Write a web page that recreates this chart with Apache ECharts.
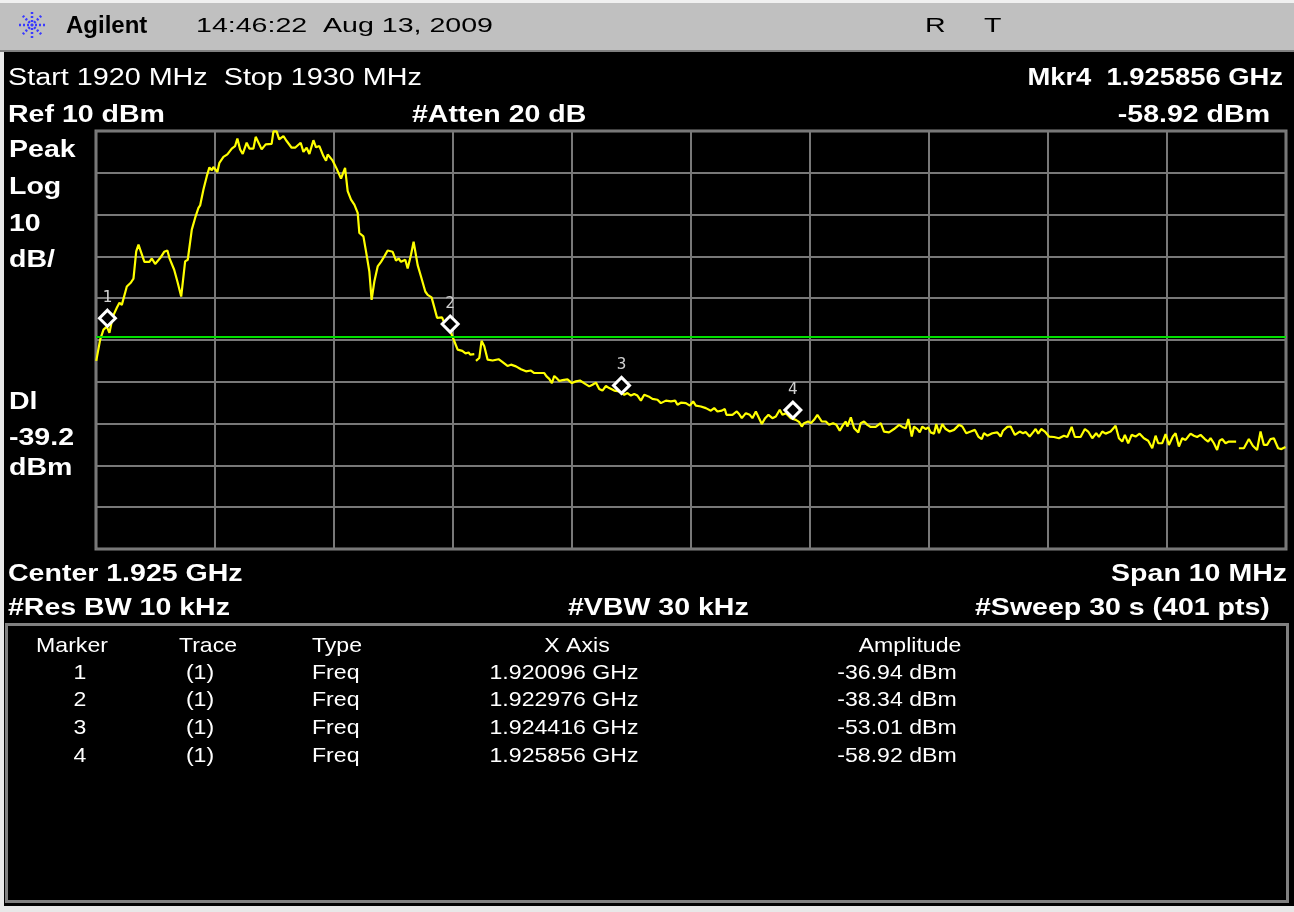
<!DOCTYPE html>
<html><head><meta charset="utf-8">
<script src="https://cdn.jsdelivr.net/npm/echarts@6/dist/echarts.min.js"></script>
<style>html,body{margin:0;padding:0;background:#fff}#c{width:1294px;height:912px}</style>
</head><body><div id="c"></div><script>
// ---- data ----
const traceFreq = [1920.002,1920.035,1920.063,1920.091,1920.113,1920.141,1920.175,1920.197,1920.217,1920.259,1920.292,1920.315,1920.338,1920.357,1920.380,1920.407,1920.449,1920.469,1920.497,1920.539,1920.573,1920.600,1920.617,1920.657,1920.684,1920.716,1920.749,1920.771,1920.805,1920.833,1920.861,1920.875,1920.903,1920.931,1920.953,1920.973,1920.987,1921.020,1921.037,1921.071,1921.104,1921.141,1921.169,1921.188,1921.211,1921.233,1921.266,1921.289,1921.323,1921.342,1921.371,1921.392,1921.426,1921.476,1921.491,1921.518,1921.539,1921.575,1921.602,1921.644,1921.673,1921.720,1921.743,1921.770,1921.793,1921.827,1921.849,1921.877,1921.911,1921.933,1921.947,1921.989,1922.022,1922.059,1922.093,1922.115,1922.143,1922.171,1922.199,1922.213,1922.247,1922.269,1922.297,1922.316,1922.339,1922.367,1922.395,1922.423,1922.451,1922.493,1922.521,1922.543,1922.563,1922.599,1922.619,1922.647,1922.669,1922.703,1922.731,1922.767,1922.787,1922.820,1922.843,1922.866,1922.908,1922.941,1922.983,1923.011,1923.039,1923.078,1923.106,1923.131,1923.145,1923.179,1923.186,1923.193,1923.221,1923.240,1923.263,1923.291,1923.333,1923.383,1923.417,1923.458,1923.487,1923.529,1923.571,1923.613,1923.655,1923.683,1923.725,1923.767,1923.786,1923.809,1923.831,1923.851,1923.870,1923.893,1923.920,1923.962,1923.999,1924.033,1924.067,1924.111,1924.145,1924.172,1924.201,1924.229,1924.256,1924.285,1924.313,1924.355,1924.397,1924.439,1924.466,1924.495,1924.523,1924.550,1924.579,1924.607,1924.643,1924.676,1924.718,1924.747,1924.789,1924.831,1924.867,1924.886,1924.915,1924.957,1924.990,1925.018,1925.041,1925.083,1925.125,1925.167,1925.195,1925.222,1925.259,1925.284,1925.298,1925.348,1925.385,1925.404,1925.427,1925.461,1925.494,1925.516,1925.545,1925.572,1925.595,1925.623,1925.651,1925.684,1925.713,1925.746,1925.768,1925.797,1925.839,1925.881,1925.908,1925.931,1925.950,1925.984,1926.007,1926.034,1926.062,1926.099,1926.133,1926.160,1926.194,1926.222,1926.250,1926.278,1926.301,1926.314,1926.343,1926.371,1926.406,1926.426,1926.454,1926.482,1926.510,1926.552,1926.594,1926.622,1926.664,1926.706,1926.749,1926.776,1926.805,1926.826,1926.855,1926.874,1926.902,1926.922,1926.944,1926.973,1926.994,1927.014,1927.042,1927.061,1927.084,1927.112,1927.140,1927.174,1927.210,1927.252,1927.280,1927.313,1927.350,1927.386,1927.414,1927.443,1927.462,1927.490,1927.532,1927.574,1927.602,1927.622,1927.658,1927.686,1927.722,1927.762,1927.790,1927.812,1927.846,1927.874,1927.896,1927.918,1927.943,1927.974,1928.008,1928.050,1928.092,1928.134,1928.162,1928.199,1928.226,1928.274,1928.310,1928.338,1928.372,1928.405,1928.428,1928.456,1928.484,1928.526,1928.568,1928.596,1928.624,1928.646,1928.674,1928.703,1928.736,1928.770,1928.806,1928.842,1928.876,1928.904,1928.926,1928.960,1928.988,1929.016,1929.049,1929.072,1929.100,1929.128,1929.156,1929.178,1929.198,1929.226,1929.253,1929.282,1929.318,1929.346,1929.366,1929.394,1929.421,1929.442,1929.463,1929.492,1929.520,1929.547,1929.581,1929.592,1929.604,1929.646,1929.688,1929.721,1929.757,1929.786,1929.814,1929.841,1929.870,1929.898,1929.934,1929.962,1929.996];
const traceAmp = [-45.0,-39.9,-37.5,-36.8,-38.3,-34.4,-32.3,-31.1,-31.6,-27.2,-26.3,-25.3,-18.8,-17.2,-19.1,-21.3,-21.3,-20.5,-21.8,-20.4,-18.9,-18.6,-20.4,-23.2,-26.0,-29.6,-21.2,-20.8,-13.6,-10.8,-8.4,-7.8,-4.0,-0.8,1.3,0.6,1.4,0.2,2.4,3.8,4.4,5.8,6.4,8.2,5.6,4.5,7.2,5.8,5.8,8.6,6.9,5.6,6.8,6.9,9.9,9.9,8.0,8.8,7.6,6.0,6.0,7.2,5.0,6.0,4.5,7.8,6.1,6.4,4.0,2.9,4.4,2.9,1.0,-1.4,1.2,-4.4,-6.4,-7.6,-9.6,-14.4,-15.2,-18.8,-23.6,-30.4,-26.0,-22.4,-21.3,-20.0,-18.6,-18.9,-21.0,-20.5,-21.3,-20.8,-22.9,-19.6,-16.5,-22.1,-24.8,-28.4,-29.2,-29.8,-32.2,-34.7,-34.6,-36.8,-38.3,-40.3,-42.3,-42.6,-43.2,-43.0,-43.5,-43.4,null,-45.0,-44.3,-40.2,-41.5,-44.7,-44.9,-44.6,-45.3,-46.2,-45.9,-46.3,-47.0,-47.5,-47.3,-47.9,-47.9,-47.9,-48.7,-49.3,-50.3,-48.6,-49.1,-49.8,-49.6,-49.4,-50.3,-49.9,-49.7,-50.5,-51.1,-50.7,-50.2,-51.7,-52.1,-51.0,-51.5,-52.1,-52.3,-53.1,-52.7,-53.3,-52.9,-53.3,-54.5,-53.1,-53.5,-54.1,-54.3,-55.1,-54.5,-54.7,-54.5,-55.5,-55.0,-55.1,-55.7,-54.7,-55.7,-55.9,-56.3,-56.9,-56.3,-57.1,-56.9,-56.5,-57.9,-57.9,-57.1,-57.7,-58.7,-57.5,-57.9,-58.7,-57.1,-58.7,-60.1,-58.7,-57.9,-58.7,-58.3,-56.7,-57.9,-57.5,-58.7,-59.1,-59.6,-60.7,-59.9,-59.5,-59.9,-59.1,-57.9,-59.5,-59.5,-60.3,-59.9,-60.3,-61.7,-60.3,-59.5,-60.7,-58.5,-61.1,-62.1,-59.9,-59.5,-60.3,-60.8,-60.8,-59.9,-61.9,-62.1,-61.3,-60.3,-60.8,-61.1,-58.9,-63.1,-60.7,-61.3,-62.1,-60.7,-61.3,-60.9,-62.1,-62.4,-60.1,-62.3,-60.1,-61.3,-61.9,-61.5,-60.3,-60.7,-62.3,-61.9,-61.5,-63.1,-63.7,-62.3,-62.9,-62.3,-62.1,-63.1,-61.7,-60.8,-60.7,-62.7,-61.9,-62.3,-62.0,-63.1,-62.1,-61.3,-62.4,-61.3,-61.9,-63.1,-63.2,-63.5,-62.9,-63.2,-60.8,-63.2,-63.2,-61.3,-61.9,-63.5,-62.3,-63.2,-61.9,-62.4,-61.9,-60.5,-63.5,-64.3,-62.7,-64.7,-62.7,-63.1,-62.4,-63.5,-64.1,-65.9,-62.9,-64.7,-64.7,-62.5,-65.1,-63.1,-62.3,-65.5,-63.5,-63.9,-63.1,-62.4,-62.9,-63.2,-62.7,-63.7,-64.3,-63.5,-64.7,-66.3,-64.1,-63.7,-64.7,-64.3,-64.3,-64.3,null,-65.9,-65.9,-63.7,-65.3,-66.3,-61.9,-65.1,-65.1,-63.7,-63.5,-65.9,-66.1,-65.6];

const markerNo = [1, 2, 3, 4];
const markerTrace = ['(1)', '(1)', '(1)', '(1)'];
const markerType = ['Freq', 'Freq', 'Freq', 'Freq'];
const markerFreqGHz = [1.920096, 1.922976, 1.924416, 1.925856];
const markerAmp = [-36.94, -38.34, -53.01, -58.92];
const tableHeaders = ['Marker', 'Trace', 'Type', 'X Axis', 'Amplitude'];

const startMHz = 1920, stopMHz = 1930;
const refLevel = 10, dbPerDiv = 10, divisions = 10;
const displayLine = -39.2;

// ---- rendering ----
const FONT = '"Liberation Sans", Arial, sans-serif';
function T(x, y, text, size, bold, align, color, sx) {
  return { type: 'text', x: x, y: y, scaleX: sx || 1.24, z: 20,
    style: { text: text, fill: color || '#fff', fontSize: size, fontWeight: bold ? 'bold' : 'normal',
      fontFamily: FONT, textAlign: align || 'left', textVerticalAlign: 'middle', align: align || 'left', verticalAlign: 'middle' } };
}

const chart = echarts.init(document.getElementById('c'), null, { renderer: 'canvas' });

const lineData = traceFreq.map((f, i) => [f, traceAmp[i] === null ? '-' : traceAmp[i]]);
const markData = markerFreqGHz.map((g, i) => [+(g * 1000).toFixed(3), markerAmp[i]]);

const graphics = [];
// header band
graphics.push({ type: 'rect', z: 1, shape: { x: 0, y: 0, width: 1294, height: 51 }, style: { fill: '#c0c0c0' } });
graphics.push({ type: 'line', z: 2, shape: { x1: 0, y1: 51, x2: 1294, y2: 51 }, style: { stroke: '#808080', lineWidth: 2 } });
// thin light frame around the screen capture
graphics.push({ type: 'rect', z: 2, shape: { x: 0, y: 0, width: 1294, height: 3 }, style: { fill: '#f0f0f0' } });
graphics.push({ type: 'rect', z: 2, shape: { x: 0, y: 52, width: 4, height: 860 }, style: { fill: '#e8e8e8' } });
graphics.push({ type: 'rect', z: 2, shape: { x: 0, y: 906, width: 1294, height: 6 }, style: { fill: '#e8e8e8' } });
// Agilent spark logo
const lcx = 32, lcy = 25;
[0, 45, 90, 135].forEach(a => {
  const r = a * Math.PI / 180, L = 13;
  graphics.push({ type: 'line', z: 3, shape: { x1: lcx - L * Math.cos(r), y1: lcy - L * Math.sin(r), x2: lcx + L * Math.cos(r), y2: lcy + L * Math.sin(r) },
    style: { stroke: '#3a3aff', lineWidth: 2.5, lineDash: [2, 2] } });
});
graphics.push(T(66, 26, 'Agilent', 24, true, 'left', '#000', 1.0));
graphics.push(T(196, 26, '14:46:22  Aug 13, 2009', 21, false, 'left', '#000', 1.36));
graphics.push(T(925, 26, 'R', 21, false, 'left', '#000', 1.36));
graphics.push(T(984, 26, 'T', 21, false, 'left', '#000', 1.36));

// annotation texts
const D = 3; // vertical nudge for 23px text
graphics.push(T(8, 76 + D, 'Start ' + startMHz + ' MHz  Stop ' + stopMHz + ' MHz', 23, false, 'left', '#fff', 1.25));
graphics.push(T(1283, 76 + D, 'Mkr' + markerNo[3] + '  ' + markerFreqGHz[3].toFixed(6) + ' GHz', 23, true, 'right', '#fff', 1.19));
graphics.push(T(8, 113 + D, 'Ref ' + refLevel + ' dBm', 23, true));
graphics.push(T(412, 113 + D, '#Atten 20 dB', 23, true));
graphics.push(T(1270, 113 + D, markerAmp[3].toFixed(2) + ' dBm', 23, true, 'right'));
graphics.push(T(9, 148 + D, 'Peak', 23, true));
graphics.push(T(9, 185 + D, 'Log', 23, true));
graphics.push(T(9, 222 + D, String(dbPerDiv), 23, true));
graphics.push(T(9, 258 + D, 'dB/', 23, true));
graphics.push(T(9, 400 + D, 'Dl', 23, true));
graphics.push(T(9, 436 + D, String(displayLine), 23, true));
graphics.push(T(9, 466 + D, 'dBm', 23, true));
graphics.push(T(8, 572 + D, 'Center 1.925 GHz', 23, true));
graphics.push(T(1287, 572 + D, 'Span 10 MHz', 23, true, 'right'));
graphics.push(T(8, 606 + D, '#Res BW 10 kHz', 23, true));
graphics.push(T(568, 606 + D, '#VBW 30 kHz', 23, true));
graphics.push(T(975, 606 + D, '#Sweep 30 s (401 pts)', 23, true));

// marker table
graphics.push({ type: 'rect', z: 5, shape: { x: 6.5, y: 624.5, width: 1281, height: 277 }, style: { fill: '#000', stroke: '#808080', lineWidth: 3 } });
const TS = 21, TSX = 1.1;
const colX = [72, 208, 337, 577, 910];
tableHeaders.forEach((h, i) => graphics.push(T(colX[i], 646, h, TS, false, 'center', '#fff', TSX)));
const rowY = [673, 700, 728, 756];
const rowX = [80, 200, 312, 564, 897];
markerNo.forEach((m, i) => {
  graphics.push(T(rowX[0], rowY[i], String(m), TS, false, 'center', '#fff', TSX));
  graphics.push(T(rowX[1], rowY[i], markerTrace[i], TS, false, 'center', '#fff', TSX));
  graphics.push(T(rowX[2], rowY[i], markerType[i], TS, false, 'left', '#fff', TSX));
  graphics.push(T(rowX[3], rowY[i], markerFreqGHz[i].toFixed(6) + ' GHz', TS, false, 'center', '#fff', TSX));
  graphics.push(T(rowX[4], rowY[i], markerAmp[i].toFixed(2) + ' dBm', TS, false, 'center', '#fff', TSX));
});

chart.setOption({
  animation: false,
  backgroundColor: '#000',
  graphic: { elements: graphics },
  grid: { left: 96, top: 131, width: 1190, height: 418, show: true, borderColor: '#808080', borderWidth: 3, backgroundColor: '#000' },
  xAxis: { type: 'value', min: startMHz, max: stopMHz, interval: (stopMHz - startMHz) / divisions,
    axisLine: { show: false }, axisTick: { show: false }, axisLabel: { show: false },
    splitLine: { show: true, lineStyle: { color: '#787878', width: 2 } } },
  yAxis: { type: 'value', min: refLevel - dbPerDiv * divisions, max: refLevel, interval: dbPerDiv,
    axisLine: { show: false }, axisTick: { show: false }, axisLabel: { show: false },
    splitLine: { show: true, lineStyle: { color: '#787878', width: 2 } } },
  series: [
    { type: 'line', data: lineData, showSymbol: false, symbol: 'none', connectNulls: false, z: 3,
      lineStyle: { color: '#ffff00', width: 2.2 },
      markLine: { silent: true, symbol: 'none', label: { show: false }, z: 4,
        lineStyle: { color: '#00e000', width: 2, type: 'solid' }, data: [{ yAxis: displayLine }] } },
    { type: 'scatter', data: markData, symbol: 'diamond', symbolSize: [16, 16], symbolOffset: [0, -9], z: 6,
      itemStyle: { color: '#000', borderColor: '#fff', borderWidth: 3, opacity: 1 },
      label: { show: true, position: 'top', distance: 3, formatter: p => String(markerNo[p.dataIndex]),
        color: '#d0d0d0', fontSize: 16, fontFamily: '"DejaVu Sans Mono", monospace' } }
  ]
});
</script></body></html>
